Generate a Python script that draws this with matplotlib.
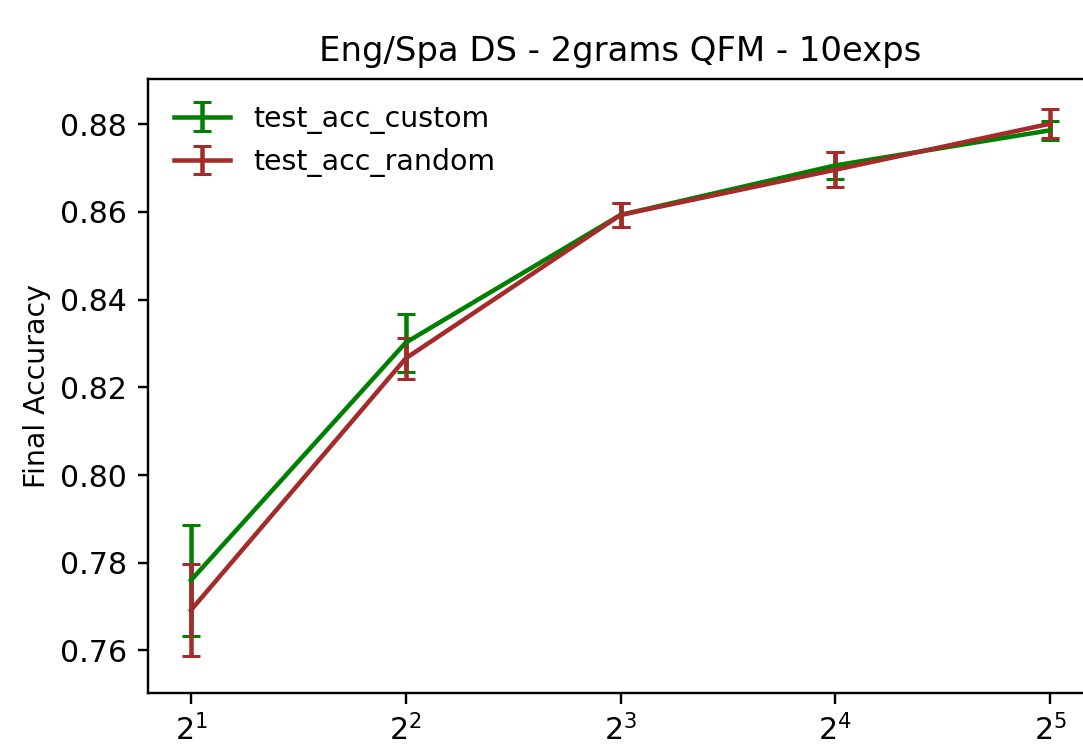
import matplotlib
matplotlib.use('Agg')
import matplotlib.pyplot as plt

# number of features (log2 axis)
n_feats = [2, 4, 8, 16, 32]

# mean final accuracy and std over 10 experiments
acc_custom = [0.7760, 0.8302, 0.8593, 0.8706, 0.8786]
err_custom = [0.0127, 0.0066, 0.0027, 0.0030, 0.0022]
acc_random = [0.7692, 0.8266, 0.8593, 0.8696, 0.8801]
err_random = [0.0105, 0.0046, 0.0027, 0.0040, 0.0033]

dpi = 216
fig = plt.figure(figsize=(1083 / dpi, 755 / dpi), dpi=dpi)
ax = fig.add_axes([148 / 1083, 62 / 755, 945 / 1083, 614 / 755])

ax.errorbar(n_feats, acc_custom, yerr=err_custom, color='green', capsize=3, label='test_acc_custom')
ax.errorbar(n_feats, acc_random, yerr=err_random, color='brown', capsize=3, label='test_acc_random')

ax.set_xscale('log', base=2)
ax.set_ylim(0.7503, 0.8903)
ax.set_ylabel('Final Accuracy', fontsize=9.45, labelpad=2.8)
ax.set_title('Eng/Spa DS - 2grams QFM - 10exps', fontsize=11.3)
ax.legend(loc='upper left', frameon=False, fontsize=9.45)

plt.savefig('out.png', dpi=dpi)
